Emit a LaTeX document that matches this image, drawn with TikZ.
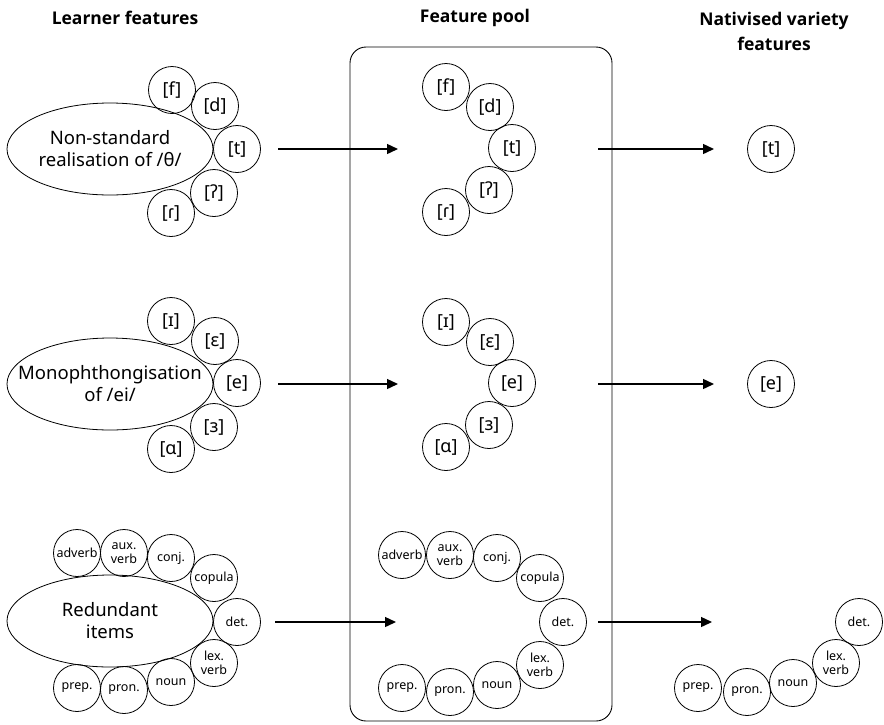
\documentclass[tikz,border=0pt]{standalone}
\usepackage{fontspec}
\setmainfont{Noto Sans}
\newfontfamily\headfont{Open Sans}
\usetikzlibrary{shapes.geometric,arrows.meta}
\tikzset{
  feat/.style={draw, circle, line width=0.8pt, minimum size=47pt, inner sep=0pt, font=\fontsize{18}{20}\selectfont},
  wfeat/.style={draw, circle, line width=0.8pt, minimum size=47pt, inner sep=0pt, align=center, font=\fontsize{12.5}{13.5}\selectfont},
  oval/.style={draw, ellipse, line width=0.8pt, minimum width=206pt, minimum height=92pt, inner sep=0pt},
  ovaltext/.style={align=center, inner sep=0pt, font=\fontsize{18.5}{22}\selectfont},
  heading/.style={align=center, font=\headfont\bfseries\fontsize{17.5}{25}\selectfont},
  flow/.style={line width=1.4pt, -{Triangle[length=11pt,width=10pt]}},
  pool/.style={draw, rectangle, rounded corners=16pt, line width=0.9pt, minimum width=262pt, minimum height=674pt, inner sep=0pt}
}
\begin{document}
\begin{tikzpicture}[x=1pt,y=-1pt]
\useasboundingbox (0,0) rectangle (884,724);
% headings
\node[heading] (h1) at (125,18) {Learner features};
\node[heading] (h2) at (475,18) {Feature pool};
\node[heading] (h3) at (774,31) {Nativised variety\\features};
% pool box
\node[pool] (box) at (481,384) {};
% ----- row 1
\node[oval] (e1) at (110,149) {};
\node[ovaltext] (e1t) at (e1.center) {Non-standard\\realisation of /θ/};
\node[feat] (a1) at (172,90) {[f]};
\node[feat] (a2) at (215,106) {[d]};
\node[feat] (a3) at (237,149) {[t]};
\node[feat] (a4) at (214,193) {[ʔ]};
\node[feat] (a5) at (171,213) {[ɾ]};
\node[feat] (b1) at (446,87) {[f]};
\node[feat] (b2) at (490,107) {[d]};
\node[feat] (b3) at (512,148) {[t]};
\node[feat] (b4) at (489,190) {[ʔ]};
\node[feat] (b5) at (446,212) {[ɾ]};
\node[feat] (c3) at (771,149) {[t]};
% ----- row 2
\node[oval] (e2) at (110,384) {};
\node[ovaltext] (e2t) at (e2.center) {Monophthongisation\\of /ei/};
\node[feat] (d1) at (171,321) {[ɪ]};
\node[feat] (d2) at (215,341) {[ɛ]};
\node[feat] (d3) at (237,383) {[e]};
\node[feat] (d4) at (214,427) {[ɜ]};
\node[feat] (d5) at (171,449) {[ɑ]};
\node[feat] (f1) at (446,322) {[ɪ]};
\node[feat] (f2) at (490,342) {[ɛ]};
\node[feat] (f3) at (512,383) {[e]};
\node[feat] (f4) at (489,425) {[ɜ]};
\node[feat] (f5) at (446,447) {[ɑ]};
\node[feat] (g3) at (771,384) {[e]};
% ----- row 3
\node[oval] (e3) at (110,621) {};
\node[ovaltext] (e3t) at (e3.center) {Redundant\\items};
\node[wfeat] (k1) at (77,553) {adverb};
\node[wfeat] (k2) at (124,553) {aux.\\verb};
\node[wfeat] (k3) at (171,558) {conj.};
\node[wfeat] (k4) at (214,578) {copula};
\node[wfeat] (k5) at (237,622) {det.};
\node[wfeat] (k6) at (214,663) {lex.\\verb};
\node[wfeat] (k7) at (171,682) {noun};
\node[wfeat] (k8) at (124,690) {pron.};
\node[wfeat] (k9) at (77,688) {prep.};
\node[wfeat] (m1) at (402,555) {adverb};
\node[wfeat] (m2) at (450,555) {aux.\\verb};
\node[wfeat] (m3) at (497,558) {conj.};
\node[wfeat] (m4) at (540,578) {copula};
\node[wfeat] (m5) at (563,622) {det.};
\node[wfeat] (m6) at (540,665) {lex.\\verb};
\node[wfeat] (m7) at (497,685) {noun};
\node[wfeat] (m8) at (450,692) {pron.};
\node[wfeat] (m9) at (402,688) {prep.};
\node[wfeat] (n5) at (859,622) {det.};
\node[wfeat] (n6) at (836,663) {lex.\\verb};
\node[wfeat] (n7) at (793,683) {noun};
\node[wfeat] (n8) at (747,692) {pron.};
\node[wfeat] (n9) at (698,688) {prep.};
% arrow end points
\coordinate (p1s) at (278,149); \coordinate (p1e) at (398,149);
\coordinate (q1s) at (598,149); \coordinate (q1e) at (714,149);
\coordinate (p2s) at (278,384); \coordinate (p2e) at (398,384);
\coordinate (q2s) at (598,384); \coordinate (q2e) at (714,384);
\coordinate (p3s) at (275,622); \coordinate (p3e) at (396,622);
\coordinate (q3s) at (598,622); \coordinate (q3e) at (712,622);
\draw[flow] (p1s) -- (p1e);
\draw[flow] (q1s) -- (q1e);
\draw[flow] (p2s) -- (p2e);
\draw[flow] (q2s) -- (q2e);
\draw[flow] (p3s) -- (p3e);
\draw[flow] (q3s) -- (q3e);
\end{tikzpicture}
\end{document}
